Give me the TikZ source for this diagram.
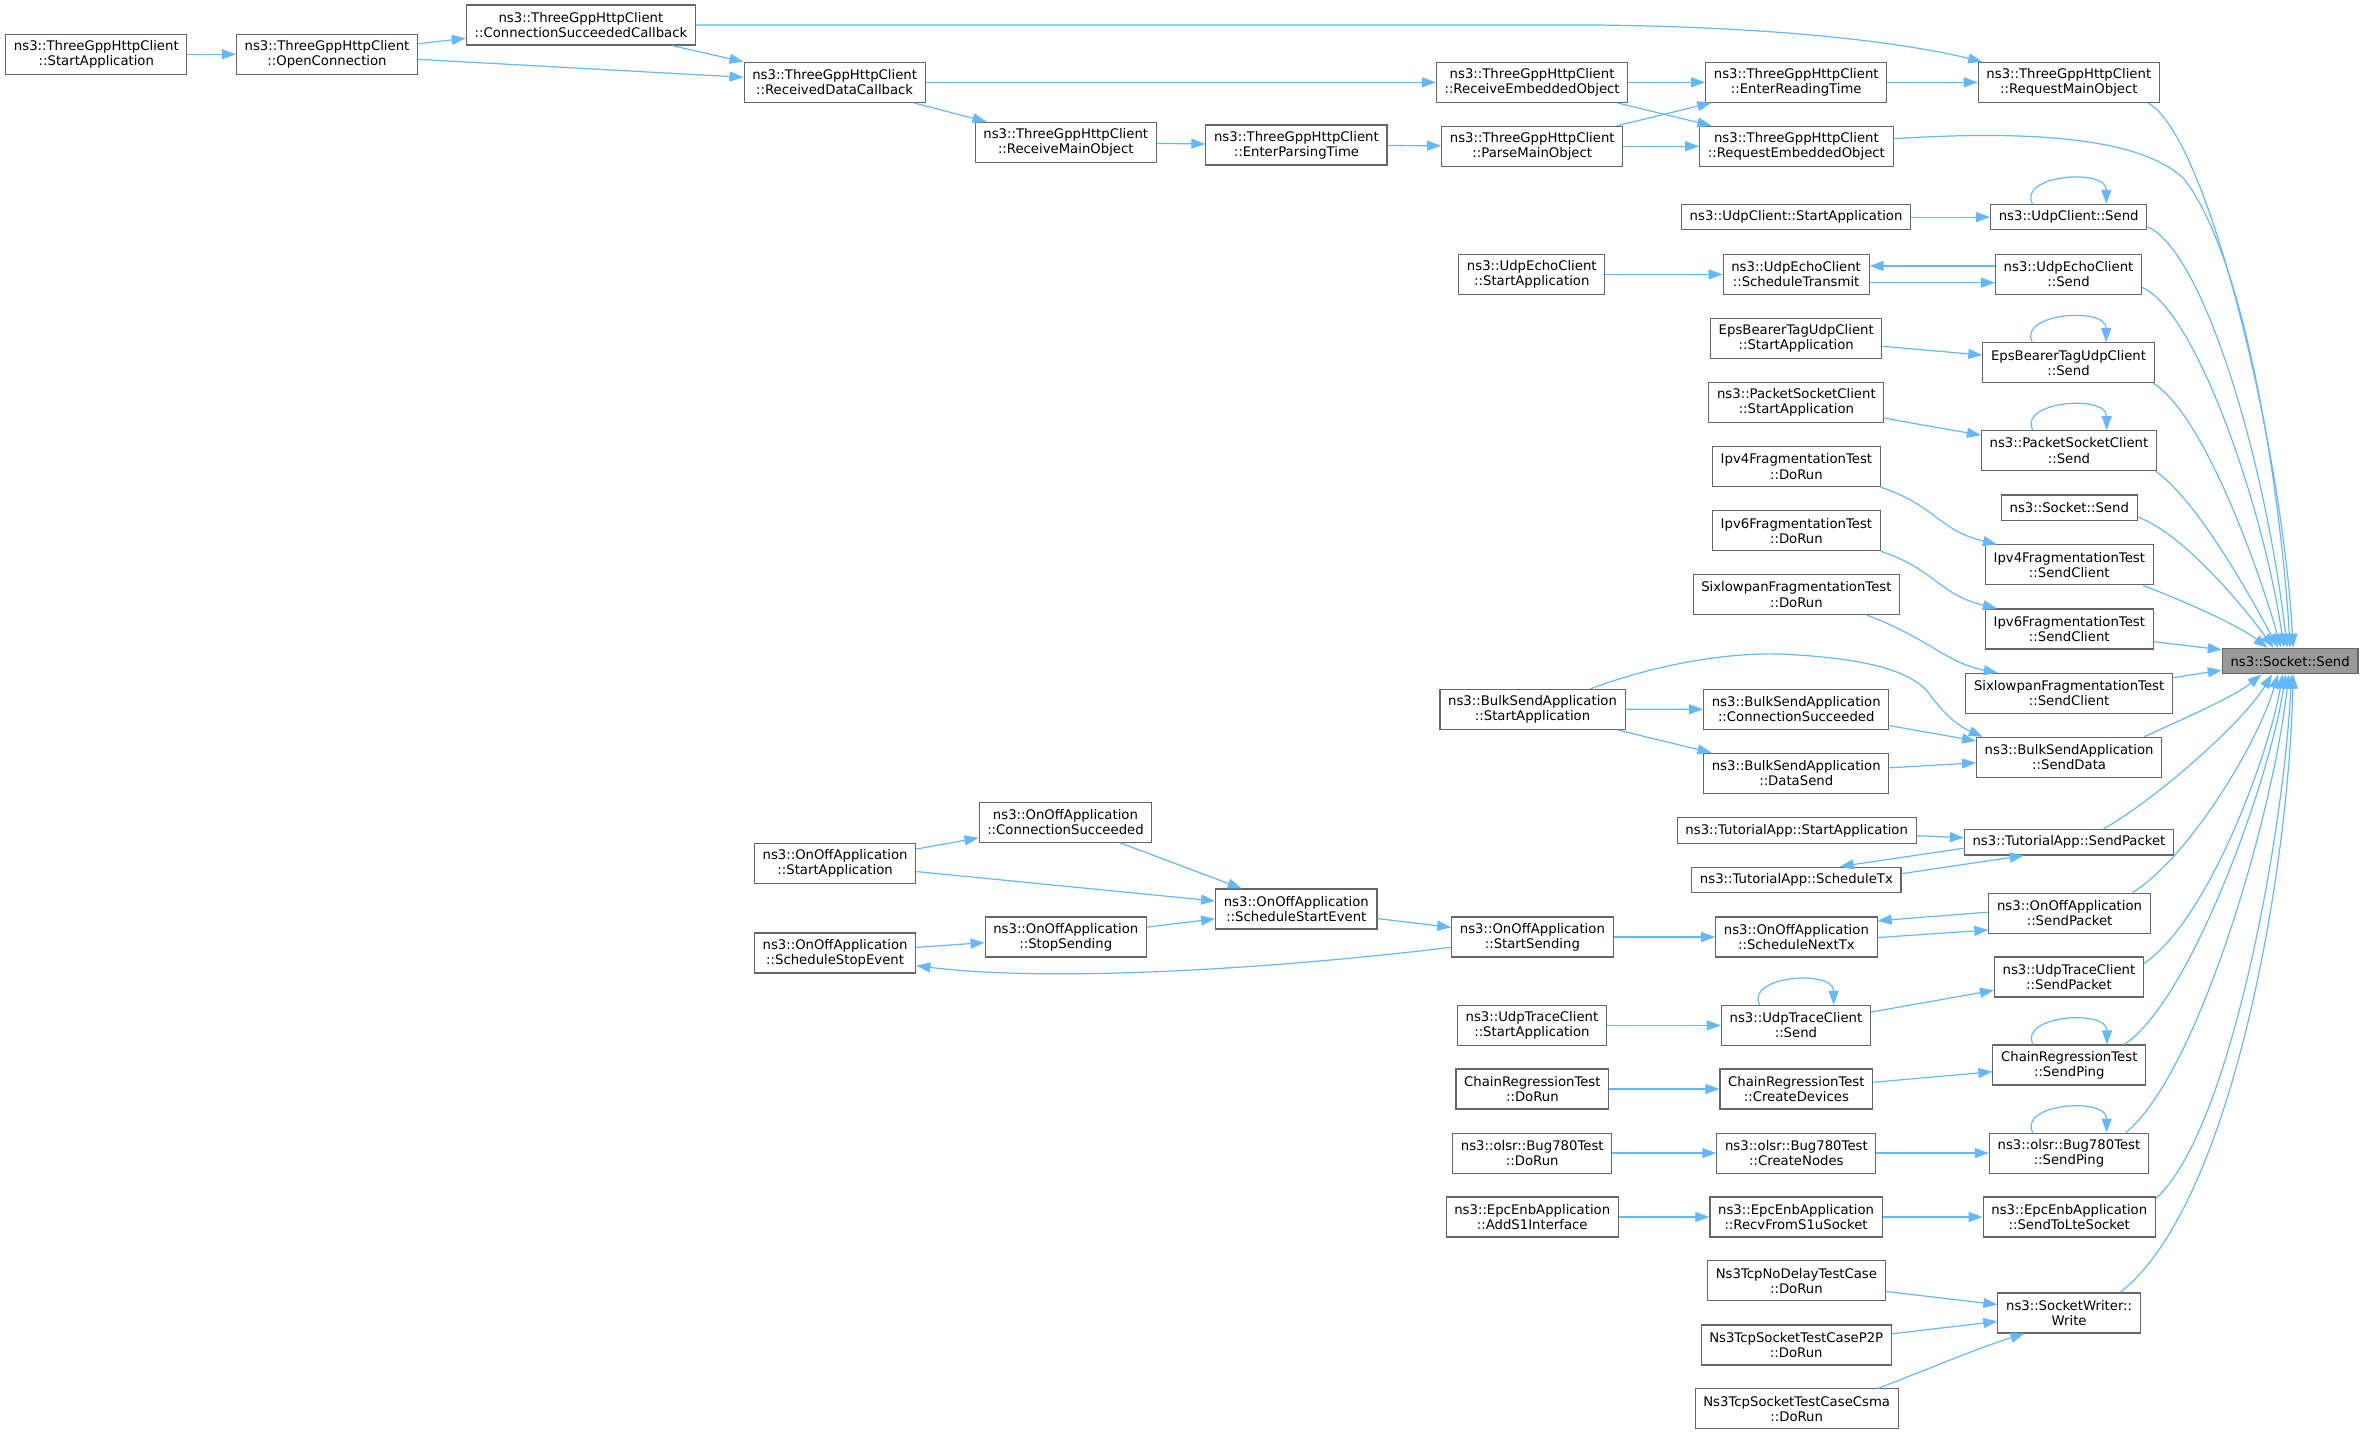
\documentclass[tikz,border=0pt]{standalone}
\usepackage{fontspec}
\usetikzlibrary{arrows.meta}
\newfontfamily\dejavu{DejaVu Sans}
\definecolor{edgeblue}{HTML}{63B8FF}
\definecolor{nodegray}{HTML}{666666}
\definecolor{rootfill}{HTML}{999999}
\tikzset{
  box/.style={draw=nodegray, line width=0.55pt, fill=white, text=black,
    font={\dejavu\fontsize{6.62pt}{7.6pt}\selectfont}, align=center,
    inner xsep=4.1pt, inner ysep=0pt, minimum height=20pt},
  boxone/.style={box, minimum height=12.8pt},
  rootbox/.style={boxone, fill=rootfill},
  edge/.style={draw=edgeblue, line width=0.6pt, -{Triangle[length=7pt,width=5pt]}}
}
\newcommand\selfloop[1]{\draw[edge] ([shift={(-24,0)}]#1.north) .. controls +(-10,-19) and +(0,-24) .. ([shift={(25,0)}]#1.north);}
\begin{document}
\begin{tikzpicture}[x=0.7538pt, y=-0.7538pt]
\useasboundingbox (0,0) rectangle (1568,951.8);
% ---------------- nodes ----------------
\node[box] (tgStart) at (63.9,36) {ns3::ThreeGppHttpClient\\::StartApplication};
\node[box] (tgOpen) at (216.9,36) {ns3::ThreeGppHttpClient\\::OpenConnection};
\node[box] (tgConnCb) at (385.3,16.6) {ns3::ThreeGppHttpClient\\::ConnectionSucceededCallback};
\node[box] (tgRecvData) at (553.6,54.6) {ns3::ThreeGppHttpClient\\::ReceivedDataCallback};
\node[box] (tgRecvMain) at (706.9,94.4) {ns3::ThreeGppHttpClient\\::ReceiveMainObject};
\node[box] (tgParseTime) at (859.9,96.2) {ns3::ThreeGppHttpClient\\::EnterParsingTime};
\node[box] (tgRecvEmb) at (1016.2,54.6) {ns3::ThreeGppHttpClient\\::ReceiveEmbeddedObject};
\node[box] (tgParseMain) at (1016.3,97) {ns3::ThreeGppHttpClient\\::ParseMainObject};
\node[box] (tgReadTime) at (1191.4,54.6) {ns3::ThreeGppHttpClient\\::EnterReadingTime};
\node[box] (tgReqEmb) at (1191.5,97) {ns3::ThreeGppHttpClient\\::RequestEmbeddedObject};
\node[box] (tgReqMain) at (1372.2,54.6) {ns3::ThreeGppHttpClient\\::RequestMainObject};
\node[boxone] (udpStart) at (1191.3,144) {ns3::UdpClient::StartApplication};
\node[boxone] (udpSend) at (1372.1,144) {ns3::UdpClient::Send};
\node[box] (echoStart) at (1016,182) {ns3::UdpEchoClient\\::StartApplication};
\node[box] (echoSched) at (1191.3,182) {ns3::UdpEchoClient\\::ScheduleTransmit};
\node[box] (echoSend) at (1372,182) {ns3::UdpEchoClient\\::Send};
\node[box] (epsStart) at (1191.4,224.6) {EpsBearerTagUdpClient\\::StartApplication};
\node[box] (epsSend) at (1372,240.6) {EpsBearerTagUdpClient\\::Send};
\node[box] (pscStart) at (1191.5,267.1) {ns3::PacketSocketClient\\::StartApplication};
\node[box] (pscSend) at (1372.3,298.9) {ns3::PacketSocketClient\\::Send};
\node[box] (ipv4Run) at (1191.5,309.5) {Ipv4FragmentationTest\\::DoRun};
\node[boxone] (sockSend) at (1372.5,336.8) {ns3::Socket::Send};
\node[box] (ipv4Send) at (1372.5,374.7) {Ipv4FragmentationTest\\::SendClient};
\node[box] (ipv6Run) at (1191.5,352) {Ipv6FragmentationTest\\::DoRun};
\node[box] (ipv6Send) at (1372.5,417.2) {Ipv6FragmentationTest\\::SendClient};
\node[box] (sixRun) at (1191.5,394.4) {SixlowpanFragmentationTest\\::DoRun};
\node[box] (sixSend) at (1372.4,459.9) {SixlowpanFragmentationTest\\::SendClient};
\node[rootbox] (root) at (1519,438.5) {ns3::Socket::Send};
\node[box] (bulkStart) at (1016.5,470.5) {ns3::BulkSendApplication\\::StartApplication};
\node[box] (bulkConn) at (1191.4,470.4) {ns3::BulkSendApplication\\::ConnectionSucceeded};
\node[box] (bulkData) at (1191.4,512.9) {ns3::BulkSendApplication\\::DataSend};
\node[box] (bulkSendData) at (1372.4,502.3) {ns3::BulkSendApplication\\::SendData};
\node[boxone] (tutStart) at (1191.7,550.9) {ns3::TutorialApp::StartApplication};
\node[boxone] (tutSend) at (1372.3,558.6) {ns3::TutorialApp::SendPacket};
\node[boxone] (tutSched) at (1191.5,583.6) {ns3::TutorialApp::ScheduleTx};
\node[box] (onConn) at (706.7,545.4) {ns3::OnOffApplication\\::ConnectionSucceeded};
\node[box] (onStart) at (553.9,572.8) {ns3::OnOffApplication\\::StartApplication};
\node[box] (onSchedStart) at (859.8,602.9) {ns3::OnOffApplication\\::ScheduleStartEvent};
\node[box] (onStop) at (706.9,621.5) {ns3::OnOffApplication\\::StopSending};
\node[box] (onSchedStop) at (553.9,632.1) {ns3::OnOffApplication\\::ScheduleStopEvent};
\node[box] (onStartSending) at (1016.4,621.5) {ns3::OnOffApplication\\::StartSending};
\node[box] (onNextTx) at (1191.5,621.5) {ns3::OnOffApplication\\::ScheduleNextTx};
\node[box] (onSendPacket) at (1372.7,605.8) {ns3::OnOffApplication\\::SendPacket};
\node[box] (utSendPacket) at (1372.3,648) {ns3::UdpTraceClient\\::SendPacket};
\node[box] (utStart) at (1016.1,680.1) {ns3::UdpTraceClient\\::StartApplication};
\node[box] (utSend) at (1191.2,680.1) {ns3::UdpTraceClient\\::Send};
\node[box] (crSendPing) at (1372.5,706.4) {ChainRegressionTest\\::SendPing};
\node[box] (crRun) at (1016.4,722.3) {ChainRegressionTest\\::DoRun};
\node[box] (crCreate) at (1191.5,722.3) {ChainRegressionTest\\::CreateDevices};
\node[box] (olsrSendPing) at (1372.3,764.8) {ns3::olsr::Bug780Test\\::SendPing};
\node[box] (olsrRun) at (1016.3,764.8) {ns3::olsr::Bug780Test\\::DoRun};
\node[box] (olsrCreate) at (1191.5,764.8) {ns3::olsr::Bug780Test\\::CreateNodes};
\node[box] (epcAdd) at (1016.3,807.2) {ns3::EpcEnbApplication\\::AddS1Interface};
\node[box] (epcRecv) at (1191.3,807.2) {ns3::EpcEnbApplication\\::RecvFromS1uSocket};
\node[box] (epcSendLte) at (1372.5,807.2) {ns3::EpcEnbApplication\\::SendToLteSocket};
\node[box] (tcpNoDelay) at (1191.5,849.6) {Ns3TcpNoDelayTestCase\\::DoRun};
\node[box] (sockWriter) at (1372.4,870.9) {ns3::SocketWriter::\\Write};
\node[box] (tcpP2P) at (1191.4,892.1) {Ns3TcpSocketTestCaseP2P\\::DoRun};
\node[box] (tcpCsma) at (1191.7,934.5) {Ns3TcpSocketTestCaseCsma\\::DoRun};
% ---------------- ThreeGpp edges ----------------
\draw[edge] (tgStart) -- (tgOpen);
\draw[edge] (tgOpen) -- (tgConnCb);
\draw[edge] (tgOpen) -- (tgRecvData);
\draw[edge] (tgConnCb) -- (tgRecvData);
\draw[edge] (tgConnCb.east) -- (1060,16.6) .. controls (1180,18) and (1262,28) .. ([shift={(3,0)}]tgReqMain.north west);
\draw[edge] (tgRecvData) -- (tgRecvEmb);
\draw[edge] (tgRecvData) -- (tgRecvMain);
\draw[edge] (tgRecvMain) -- (tgParseTime);
\draw[edge] (tgParseTime) -- (tgParseMain);
\draw[edge] (tgRecvEmb) -- (tgReadTime);
\draw[edge] (tgRecvEmb) -- (tgReqEmb);
\draw[edge] (tgParseMain) -- (tgReadTime);
\draw[edge] (tgParseMain) -- (tgReqEmb);
\draw[edge] (tgReadTime) -- (tgReqMain);
% ---------------- upper right groups ----------------
\draw[edge] (udpStart) -- (udpSend);
\selfloop{udpSend}
\draw[edge] (echoStart) -- (echoSched);
\draw[edge] ([shift={(0,-5.6)}]echoSend.west) -- ([shift={(0,-5.6)}]echoSched.east);
\draw[edge] ([shift={(0,5.5)}]echoSched.east) -- ([shift={(0,5.5)}]echoSend.west);
\draw[edge] (epsStart) -- (epsSend);
\selfloop{epsSend}
\draw[edge] (pscStart) -- (pscSend);
\selfloop{pscSend}
\draw[edge] (ipv4Run.south east) .. controls +(37,12.6) and +(-39,-9.5) .. ([shift={(8,0)}]ipv4Send.north west);
\draw[edge] (ipv6Run.south east) .. controls +(37,12.6) and +(-39,-9.5) .. ([shift={(8,0)}]ipv6Send.north west);
\draw[edge] ([shift={(-22,0)}]sixRun.south east) .. controls +(40.6,15.3) and +(-34,-6.6) .. ([shift={(21.5,0)}]sixSend.north west);
% ---------------- BulkSend / Tutorial / OnOff ----------------
\draw[edge] (bulkStart) -- (bulkConn);
\draw[edge] (bulkStart) -- (bulkData);
\draw[edge] ([shift={(-23.4,0)}]bulkStart.north east) .. controls (1100,440) and (1150,432) .. (1185,434)
   .. controls (1240,437) and (1265,445) .. (1278,458) .. controls (1290,475) and (1300,482) .. ([shift={(4.5,0)}]bulkSendData.north west);
\draw[edge] (bulkConn) -- (bulkSendData);
\draw[edge] (bulkData) -- (bulkSendData);
\draw[edge] (tutStart) -- (tutSend);
\draw[edge] ([shift={(0,4)}]tutSend.west) -- ([shift={(-41,0)}]tutSched.north east);
\draw[edge] ([shift={(0,-4.1)}]tutSched.east) -- ([shift={(-30,0)}]tutSend.south);
\draw[edge] (onStart) -- (onConn);
\draw[edge] (onStart) -- (onSchedStart);
\draw[edge] (onConn) -- (onSchedStart);
\draw[edge] (onSchedStop) -- (onStop);
\draw[edge] (onStop) -- (onSchedStart);
\draw[edge] (onSchedStart) -- (onStartSending);
\draw[edge] ([shift={(0,6.8)}]onStartSending.west) .. controls (850,642) and (700,652) .. ([shift={(0,8.4)}]onSchedStop.east);
\draw[edge] (onStartSending) -- (onNextTx);
\draw[edge] ([shift={(0,-0.8)}]onSendPacket.west) -- ([shift={(0,-10.8)}]onNextTx.east);
\draw[edge] ([shift={(0,0.4)}]onNextTx.east) -- ([shift={(0,11)}]onSendPacket.west);
% ---------------- lower groups ----------------
\draw[edge] (utStart) -- (utSend);
\selfloop{utSend}
\draw[edge] (utSend) -- (utSendPacket);
\draw[edge] (crRun) -- (crCreate);
\draw[edge] (crCreate) -- (crSendPing);
\selfloop{crSendPing}
\draw[edge] (olsrRun) -- (olsrCreate);
\draw[edge] (olsrCreate) -- (olsrSendPing);
\selfloop{olsrSendPing}
\draw[edge] (epcAdd) -- (epcRecv);
\draw[edge] (epcRecv) -- (epcSendLte);
\draw[edge] (tcpNoDelay) -- (sockWriter);
\draw[edge] (tcpP2P) -- (sockWriter);
\draw[edge] ([shift={(-13.8,0)}]tcpCsma.north east) .. controls +(34,-13) and +(-32,10) .. ([shift={(18,0)}]sockWriter.south west);
% ---------------- edges into root ----------------
\draw[edge] ([shift={(-8,0)}]tgReqMain.south east) .. controls (1465,90) and (1514,300) .. ([shift={(2,0)}]root.north);
\draw[edge] ([shift={(0,-5)}]tgReqEmb.east) .. controls (1350,86) and (1420,92) .. (1448,118) .. controls (1490,170) and (1513,330) .. ([shift={(0,0)}]root.north);
\draw[edge] ([shift={(0,6.4)}]udpSend.east) .. controls (1460,165) and (1502,300) .. ([shift={(-2,0)}]root.north);
\draw[edge] ([shift={(0,8.6)}]echoSend.east) .. controls (1455,205) and (1500,330) .. ([shift={(-4,0)}]root.north);
\draw[edge] ([shift={(-1,0)}]epsSend.south east) .. controls (1462,275) and (1499,380) .. ([shift={(-6,0)}]root.north);
\draw[edge] ([shift={(-1,0)}]pscSend.south east) .. controls (1458,332) and (1495,400) .. ([shift={(-8,0)}]root.north);
\draw[edge] ([shift={(0,6)}]sockSend.east) .. controls (1450,355) and (1490,405) .. ([shift={(-11,0)}]root.north);
\draw[edge] ([shift={(-7,0)}]ipv4Send.south east) .. controls (1452,400) and (1485,415) .. ([shift={(-15,0)}]root.north);
\draw[edge] ([shift={(0,8.4)}]ipv6Send.east) -- ([shift={(0,-7.5)}]root.west);
\draw[edge] ([shift={(0,-10.4)}]sixSend.east) -- ([shift={(0,6)}]root.west);
\draw[edge] ([shift={(-12,0)}]bulkSendData.north east) .. controls (1450,476) and (1482,462) .. ([shift={(-19,0)}]root.south);
\draw[edge] ([shift={(23,0)}]tutSend.north) .. controls (1430,530) and (1487,480) .. ([shift={(-12,0)}]root.south);
\draw[edge] ([shift={(-12.5,0)}]onSendPacket.north east) .. controls (1447,573) and (1495,500) .. ([shift={(-8,0)}]root.south);
\draw[edge] ([shift={(0,-9)}]utSendPacket.east) .. controls (1465,610) and (1505,500) .. ([shift={(-5,0)}]root.south);
\draw[edge] ([shift={(-14.6,0)}]crSendPing.north east) .. controls (1452,665) and (1505,520) .. ([shift={(-3,0)}]root.south);
\draw[edge] ([shift={(-15.4,0)}]olsrSendPing.north east) .. controls (1458,712) and (1508,540) .. ([shift={(-1,0)}]root.south);
\draw[edge] ([shift={(0,-12.4)}]epcSendLte.east) .. controls (1478,752) and (1514,560) .. ([shift={(1,0)}]root.south);
\draw[edge] ([shift={(-13.8,0)}]sockWriter.north east) .. controls (1480,800) and (1518,580) .. ([shift={(2,0)}]root.south);
\end{tikzpicture}
\end{document}
